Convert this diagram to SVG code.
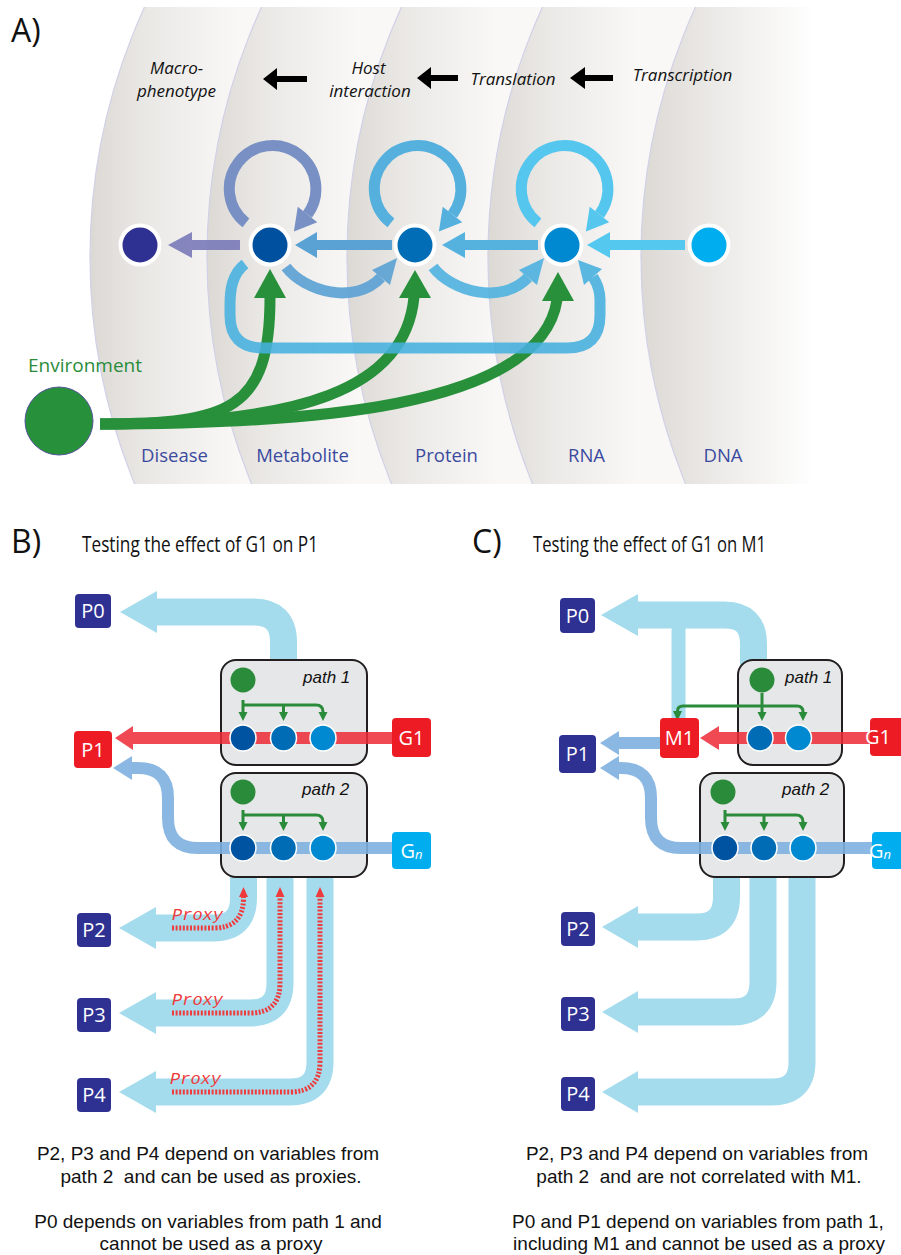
<svg xmlns="http://www.w3.org/2000/svg" width="901" height="1255" viewBox="0 0 901 1255">
<defs>
<style>
.os{font-family:"Open Sans","Liberation Sans",sans-serif}
.ar{font-family:"Liberation Sans",Arial,sans-serif}
.it{font-style:italic}
.alab{font-family:"Open Sans","Liberation Sans",sans-serif;font-size:18.5px;fill:#3b4a9f;text-anchor:middle}
.top{font-family:"Open Sans","Liberation Sans",sans-serif;font-size:17px;font-style:italic;fill:#111;text-anchor:middle}
.bx{font-family:"Open Sans","Liberation Sans",sans-serif;font-size:20px;fill:#fff;text-anchor:middle}
.band{fill:none;stroke:#a4dcee;stroke-width:27}
.bandhead{fill:#a4dcee}
.pathbox{fill:#e6e7e8;stroke:#231f20;stroke-width:2}
.plab{font-family:"Liberation Sans",Arial,sans-serif;font-size:17px;font-style:italic;fill:#111}
.gr{fill:none;stroke:#2a8c3a;stroke-width:3}
.grh{fill:#2a8c3a}
.nd{stroke:#fff;stroke-width:1.5}
.prx{fill:none;stroke:#ef3b3b;stroke-width:5;stroke-dasharray:2 1.6}
.prxt{font-family:"Liberation Mono",monospace;font-size:17px;font-style:italic;fill:#ef3b3b}
.bot{font-family:"Liberation Sans",Arial,sans-serif;font-size:19px;fill:#111;text-anchor:middle}
.ttl{font-family:"Open Sans","Liberation Sans",sans-serif;font-size:21px;fill:#111}
.big{font-family:"Open Sans","Liberation Sans",sans-serif;font-size:32px;fill:#111}
</style>
<linearGradient id="b1" gradientUnits="userSpaceOnUse" x1="90" y1="0" x2="240" y2="0"><stop offset="0" stop-color="#dcd9d5"/><stop offset="0.4" stop-color="#ebe9e6"/><stop offset="1" stop-color="#f9f8f7"/></linearGradient>
<linearGradient id="b2" gradientUnits="userSpaceOnUse" x1="207" y1="0" x2="357" y2="0"><stop offset="0" stop-color="#dcd9d5"/><stop offset="0.4" stop-color="#ebe9e6"/><stop offset="1" stop-color="#f9f8f7"/></linearGradient>
<linearGradient id="b3" gradientUnits="userSpaceOnUse" x1="347" y1="0" x2="497" y2="0"><stop offset="0" stop-color="#dcd9d5"/><stop offset="0.4" stop-color="#ebe9e6"/><stop offset="1" stop-color="#f9f8f7"/></linearGradient>
<linearGradient id="b4" gradientUnits="userSpaceOnUse" x1="488" y1="0" x2="638" y2="0"><stop offset="0" stop-color="#dcd9d5"/><stop offset="0.4" stop-color="#ebe9e6"/><stop offset="1" stop-color="#f9f8f7"/></linearGradient>
<linearGradient id="b5" gradientUnits="userSpaceOnUse" x1="641" y1="0" x2="815" y2="0"><stop offset="0" stop-color="#dcd9d5"/><stop offset="0.4" stop-color="#ebe9e6"/><stop offset="1" stop-color="#ffffff"/></linearGradient>
<clipPath id="clipA"><rect x="0" y="7" width="901" height="477"/></clipPath>
</defs>
<rect width="901" height="1255" fill="#fff"/>

<!-- Panel A background bands -->
<g id="bands" clip-path="url(#clipA)" stroke="#d0d0e6" stroke-width="1.2">
<circle cx="690" cy="257" r="600" fill="url(#b1)"/>
<circle cx="807" cy="257" r="600" fill="url(#b2)"/>
<circle cx="947" cy="257" r="600" fill="url(#b3)"/>
<circle cx="1088" cy="257" r="600" fill="url(#b4)"/>
<circle cx="1241" cy="257" r="600" fill="url(#b5)"/>
</g>

<text class="big" x="11" y="42">A)</text>
<g id="stage-labels">
<text class="top" x="176.5" y="74">Macro-</text>
<text class="top" x="176.5" y="97">phenotype</text>
<text class="top" x="368.5" y="74">Host</text>
<text class="top" x="370" y="97">interaction</text>
<text class="top" x="513" y="85">Translation</text>
<text class="top" x="682.5" y="81">Transcription</text>
<g fill="#000">
<polygon points="263,79 277,68 277,76 307,76 307,82 277,82 277,90"/>
<polygon points="417,78 431,67 431,75 458,75 458,81 431,81 431,89"/>
<polygon points="570,78 585,67 585,75 613,75 613,81 585,81 585,89"/>
</g>
</g>

<g id="connectors-A">
<g fill="none" stroke="#28903b" stroke-width="11">
<path d="M 100 424 C 300 424 540 410 557 300"/>
<path d="M 100 424 C 300 424 405 390 414 297"/>
<path d="M 100 424 C 230 424 270 410 270 297"/>
</g>
<g fill="#28903b">
<polygon points="270,269 254,298 286,298"/>
<polygon points="415,270 399,298 431,298"/>
<polygon points="558,272 542,301 574,301"/>
</g>
<g opacity="0.88">
<path d="M 245 264 C 232 274 230 290 230 305 L 230 315 Q 230 348 263 348 L 567 348 Q 600 348 600 315 L 600 300 C 600 290 597 283 593 277" fill="none" stroke="#45b0df" stroke-width="11"/>
<polygon points="578,260 602,269 584,285" fill="#45b0df"/>
</g>
<g opacity="0.92">
<path d="M 286 267 C 305 292 355 305 381 277.5" fill="none" stroke="#5ea3d5" stroke-width="11"/>
<polygon points="397,258 390,285 372,270" fill="#5ea3d5"/>
</g>
<g opacity="0.92">
<path d="M 433 267 C 452 292 502 305 528 277.5" fill="none" stroke="#52b3e0" stroke-width="11"/>
<polygon points="544,258 537,285 519,270" fill="#52b3e0"/>
</g>
<g fill="none" stroke-width="11">
<path d="M 245.9 222.9 A 43.3 43.3 0 1 1 307.5 214.4" stroke="#7890c3"/>
<path d="M 390.9 222.9 A 43.3 43.3 0 1 1 452.5 214.4" stroke="#55b0de"/>
<path d="M 537.9 222.9 A 43.3 43.3 0 1 1 599.5 214.4" stroke="#55c6ee"/>
</g>
<polygon points="293.9,231.6 317.25,222.15 297.75,206.65" fill="#7890c3"/>
<polygon points="438.9,231.6 462.25,222.15 442.75,206.65" fill="#55b0de"/>
<polygon points="585.9,231.6 609.25,222.15 589.75,206.65" fill="#55c6ee"/>
<g opacity="0.92">
<path d="M 240 245 L 190 245" stroke="#7d7dbb" stroke-width="10"/>
<polygon points="168,245 192,232 192,258" fill="#7d7dbb"/>
</g>
<path d="M 392 245 L 315 245" stroke="#5aa2d4" stroke-width="10"/>
<polygon points="295,245 317,232 317,258" fill="#5aa2d4"/>
<path d="M 538 245 L 463 245" stroke="#55b2df" stroke-width="10"/>
<polygon points="442,245 465,232 465,258" fill="#55b2df"/>
<path d="M 685 245 L 608 245" stroke="#55c8ef" stroke-width="10"/>
<polygon points="587,245 610,232 610,258" fill="#55c8ef"/>
</g>

<g id="node-disease"><circle cx="140" cy="245" r="19.5" fill="#2e3192" stroke="#fff" stroke-width="4"/></g>
<g id="node-metabolite"><circle cx="270" cy="245" r="19.5" fill="#0050a0" stroke="#fff" stroke-width="4"/></g>
<g id="node-protein"><circle cx="415" cy="245" r="19.5" fill="#006db6" stroke="#fff" stroke-width="4"/></g>
<g id="node-rna"><circle cx="562" cy="245" r="19.5" fill="#0088d0" stroke="#fff" stroke-width="4"/></g>
<g id="node-dna"><circle cx="709" cy="245" r="19.5" fill="#00aeef" stroke="#fff" stroke-width="4"/></g>
<g id="node-environment">
<circle cx="59" cy="421" r="34" fill="#27903a" stroke="#55559a" stroke-width="1"/>
<text class="os" x="28" y="372" font-size="19" fill="#2a8c3a">Environment</text>
</g>
<g id="layer-labels">
<text class="alab" x="174.5" y="462">Disease</text>
<text class="alab" x="302.5" y="462">Metabolite</text>
<text class="alab" x="446.5" y="462">Protein</text>
<text class="alab" x="586.5" y="462">RNA</text>
<text class="alab" x="723" y="462">DNA</text>
</g>

<!-- Panel B -->
<text class="big" x="11" y="553">B)</text>
<text class="ttl" x="82" y="552" textLength="236" lengthAdjust="spacingAndGlyphs">Testing the effect of G1 on P1</text>

<g id="connectors-B">
<g class="band">
<path d="M 283.5 665 L 283.5 642 Q 283.5 612 253.5 612 L 155 612"/>
<path d="M 243.5 875 L 243.5 898 Q 243.5 928 213.5 928 L 154 928"/>
<path d="M 280 875 L 280 983 Q 280 1013 250 1013 L 154 1013"/>
<path d="M 320 875 L 320 1062 Q 320 1092 290 1092 L 154 1092"/>
</g>
<g class="bandhead">
<polygon points="120,612 157,591 157,633"/>
<polygon points="119,928 156,907 156,949"/>
<polygon points="119,1013 156,992 156,1034"/>
<polygon points="119,1092 156,1071 156,1113"/>
</g>
<g class="prx">
<path d="M 172 928 L 213.5 928 Q 243.5 928 243.5 898 L 243.5 896"/>
<path d="M 172 1013 L 250 1013 Q 280 1013 280 983 L 280 896"/>
<path d="M 172 1092 L 290 1092 Q 320 1092 320 1062 L 320 896"/>
</g>
<g fill="#ef3b3b">
<polygon points="243.5,887 239,897 248,897"/>
<polygon points="280,887 275.5,897 284.5,897"/>
<polygon points="320,887 315.5,897 324.5,897"/>
</g>
<text class="prxt" x="172" y="920">Proxy</text>
<text class="prxt" x="172" y="1005">Proxy</text>
<text class="prxt" x="170" y="1084">Proxy</text>
</g>

<g id="path1-B">
<rect class="pathbox" x="221" y="660" width="146" height="105" rx="15"/>
<text class="plab" x="303" y="683">path 1</text>
<circle cx="243" cy="680" r="12.5" fill="#2a8c3a"/>
</g>
<g id="path2-B">
<rect class="pathbox" x="221" y="773" width="146" height="104" rx="15"/>
<text class="plab" x="302" y="795">path 2</text>
<circle cx="243" cy="792" r="12.5" fill="#2a8c3a"/>
</g>

<g id="flow-B">
<g opacity="0.85">
<path d="M 392 738 L 130 738" stroke="#ee2a36" stroke-width="12"/>
<polygon points="115,738 133,726 133,750" fill="#ee2a36"/>
</g>
<g opacity="0.9">
<path d="M 392 848 L 198 848 Q 168 848 168 818 L 168 798 Q 168 768 138 768 L 130 768" fill="none" stroke="#7fb1e0" stroke-width="12"/>
<polygon points="113,768 132,756 132,780" fill="#7fb1e0"/>
</g>
<path class="gr" d="M 243 700 L 243 712 M 243 705 L 316 705 Q 323 705 323 712 M 283.5 705 L 283.5 712"/>
<g class="grh">
<polygon points="243,721 238.5,712 247.5,712"/>
<polygon points="283.5,721 279,712 288,712"/>
<polygon points="323,721 318.5,712 327.5,712"/>
</g>
<path class="gr" d="M 243 810 L 243 822 M 243 815 L 316 815 Q 323 815 323 822 M 283.5 815 L 283.5 822"/>
<g class="grh">
<polygon points="243,831 238.5,822 247.5,822"/>
<polygon points="283.5,831 279,822 288,822"/>
<polygon points="323,831 318.5,822 327.5,822"/>
</g>
<circle class="nd" cx="243" cy="738" r="13" fill="#0053a0"/>
<circle class="nd" cx="283.5" cy="738" r="13" fill="#006cb5"/>
<circle class="nd" cx="323" cy="738" r="13" fill="#0089d1"/>
<circle class="nd" cx="243" cy="848" r="13" fill="#0053a0"/>
<circle class="nd" cx="283.5" cy="848" r="13" fill="#006cb5"/>
<circle class="nd" cx="323" cy="848" r="13" fill="#0089d1"/>
</g>

<g id="B-P0"><rect x="75" y="594" width="36" height="34" rx="4" fill="#2e3192"/><text class="bx" x="93" y="618">P0</text></g>
<g id="B-P1"><rect x="74" y="731" width="38" height="37" rx="4" fill="#ed1c24"/><text class="bx" x="93" y="756.5">P1</text></g>
<g id="B-P2"><rect x="77" y="913" width="34" height="34" rx="4" fill="#2e3192"/><text class="bx" x="94" y="937">P2</text></g>
<g id="B-P3"><rect x="77" y="998" width="34" height="34" rx="4" fill="#2e3192"/><text class="bx" x="94" y="1022">P3</text></g>
<g id="B-P4"><rect x="77" y="1078" width="34" height="34" rx="4" fill="#2e3192"/><text class="bx" x="94" y="1102">P4</text></g>
<g id="B-G1"><rect x="392" y="718" width="39" height="39" rx="4" fill="#ed1c24"/><text class="bx" x="411.5" y="744.5">G1</text></g>
<g id="B-Gn"><rect x="392" y="832" width="39" height="37" rx="4" fill="#00aeef"/><text class="bx" x="411.5" y="857.5">G<tspan font-size="13" font-style="italic" dy="1">n</tspan></text></g>

<g id="B-caption">
<text class="bot" x="208" y="1160">P2, P3 and P4 depend on variables from</text>
<text class="bot" x="211" y="1183" xml:space="preserve">path 2  and can be used as proxies.</text>
<text class="bot" x="208" y="1228">P0 depends on variables from path 1 and</text>
<text class="bot" x="211" y="1250">cannot be used as a proxy</text>
</g>

<!-- Panel C -->
<text class="big" x="472" y="553">C)</text>
<text class="ttl" x="533" y="552" textLength="233" lengthAdjust="spacingAndGlyphs">Testing the effect of G1 on M1</text>

<g id="connectors-C">
<g class="band">
<path d="M 753.5 665 L 753.5 644 Q 753.5 615 724.5 615 L 636 615"/>
<path d="M 726.5 875 L 726.5 897 Q 726.5 927 696.5 927 L 636 927"/>
<path d="M 763 875 L 763 982 Q 763 1012 733 1012 L 636 1012"/>
<path d="M 802 875 L 802 1062 Q 802 1092 772 1092 L 636 1092"/>
</g>
<path d="M 678.5 720 L 678.5 632 Q 678.5 615 695 615" fill="none" stroke="#a4dcee" stroke-width="14"/>
<g class="bandhead">
<polygon points="601,615 638,594 638,636"/>
<polygon points="602,927 638,906 638,948"/>
<polygon points="602,1012 638,991 638,1033"/>
<polygon points="602,1092 638,1071 638,1113"/>
</g>
</g>

<g id="path1-C">
<rect class="pathbox" x="738" y="660" width="104" height="105" rx="15"/>
<text class="plab" x="785" y="683">path 1</text>
<circle cx="762" cy="680" r="12.5" fill="#2a8c3a"/>
</g>
<g id="path2-C">
<rect class="pathbox" x="700" y="773" width="144" height="104" rx="15"/>
<text class="plab" x="782" y="795">path 2</text>
<circle cx="723" cy="792" r="12.5" fill="#2a8c3a"/>
</g>

<g id="flow-C">
<g opacity="0.85">
<path d="M 872 738 L 716 738" stroke="#ee2a36" stroke-width="12"/>
<polygon points="700,738 719,726 719,750" fill="#ee2a36"/>
</g>
<g opacity="0.9">
<path d="M 661 743 L 616 743" stroke="#7fb1e0" stroke-width="12"/>
<polygon points="600,743 619,731 619,755" fill="#7fb1e0"/>
<path d="M 872 848 L 681 848 Q 651 848 651 818 L 651 798 Q 651 768 621 768 L 616 768" fill="none" stroke="#7fb1e0" stroke-width="12"/>
<polygon points="600,768 619,756 619,780" fill="#7fb1e0"/>
</g>
<path class="gr" d="M 677.5 711 Q 677.5 706 683 706 L 797 706 Q 803 706 803 712 M 762 693 L 762 712"/>
<g class="grh">
<polygon points="677.5,721 673,711 682,711"/>
<polygon points="762,721 757.5,712 766.5,712"/>
<polygon points="803,721 798.5,712 807.5,712"/>
</g>
<path class="gr" d="M 725 810 L 725 822 M 725 815 L 796 815 Q 803 815 803 822 M 764 815 L 764 822"/>
<g class="grh">
<polygon points="725,831 720.5,822 729.5,822"/>
<polygon points="764,831 759.5,822 768.5,822"/>
<polygon points="803,831 798.5,822 807.5,822"/>
</g>
<circle class="nd" cx="760" cy="738" r="13" fill="#006cb5"/>
<circle class="nd" cx="798.5" cy="738" r="13" fill="#0089d1"/>
<circle class="nd" cx="725" cy="848" r="13" fill="#0053a0"/>
<circle class="nd" cx="764" cy="848" r="13" fill="#006cb5"/>
<circle class="nd" cx="803" cy="848" r="13" fill="#0089d1"/>
</g>

<g id="C-P0"><rect x="560" y="598" width="35" height="35" rx="4" fill="#2e3192"/><text class="bx" x="577.5" y="622.5">P0</text></g>
<g id="C-P1"><rect x="559" y="735" width="37" height="38" rx="4" fill="#2e3192"/><text class="bx" x="577.5" y="761">P1</text></g>
<g id="C-M1"><rect x="660" y="718" width="39" height="40" rx="4" fill="#ed1c24"/><text class="bx" x="679.5" y="745">M1</text></g>
<g id="C-G1"><rect x="870" y="718" width="40" height="38" rx="4" fill="#ed1c24"/><text class="bx" x="878" y="744" text-anchor="start">G1</text></g>
<g id="C-Gn"><rect x="872" y="832" width="40" height="37" rx="4" fill="#00aeef"/><text class="bx" x="880" y="857.5" text-anchor="start">G<tspan font-size="13" font-style="italic" dy="1">n</tspan></text></g>
<g id="C-P2"><rect x="561" y="912" width="34" height="34" rx="4" fill="#2e3192"/><text class="bx" x="578" y="936">P2</text></g>
<g id="C-P3"><rect x="561" y="997" width="34" height="34" rx="4" fill="#2e3192"/><text class="bx" x="578" y="1021">P3</text></g>
<g id="C-P4"><rect x="561" y="1077" width="34" height="34" rx="4" fill="#2e3192"/><text class="bx" x="578" y="1101">P4</text></g>

<g id="C-caption">
<text class="bot" x="697" y="1160">P2, P3 and P4 depend on variables from</text>
<text class="bot" x="699" y="1183" xml:space="preserve">path 2  and are not correlated with M1.</text>
<text class="bot" x="698" y="1228">P0 and P1 depend on variables from path 1,</text>
<text class="bot" x="699" y="1250">including M1 and cannot be used as a proxy</text>
</g>
</svg>
